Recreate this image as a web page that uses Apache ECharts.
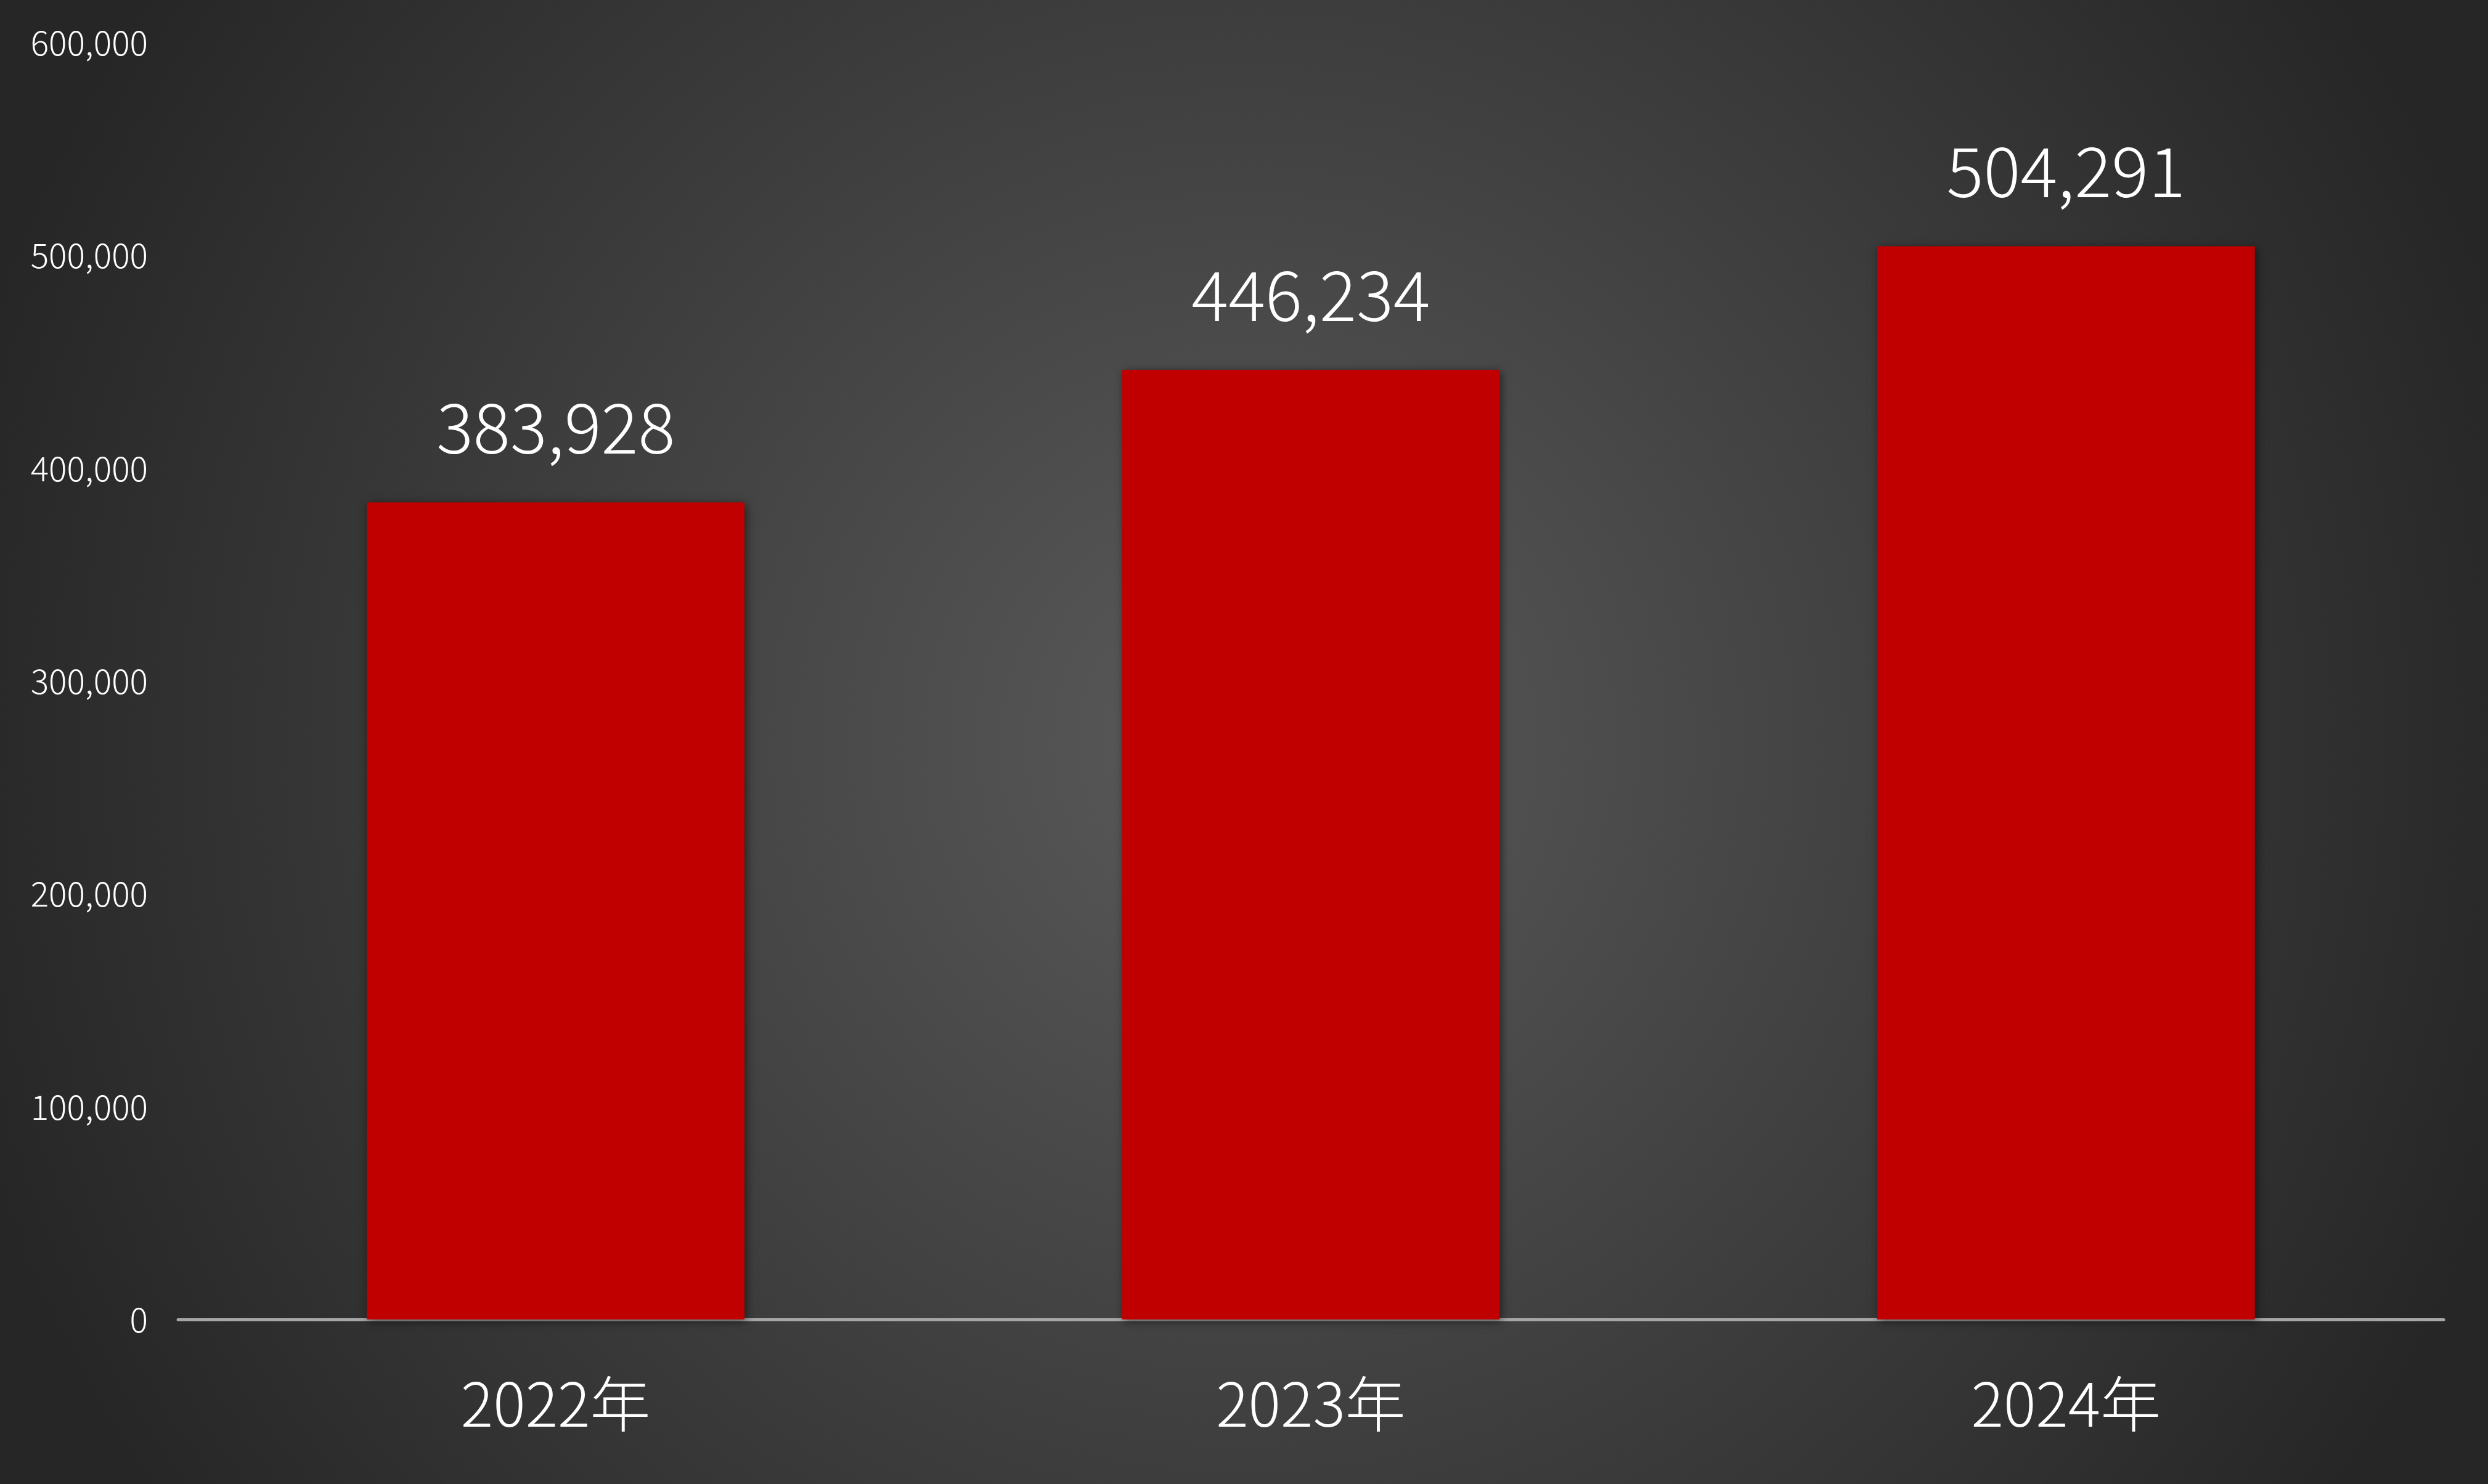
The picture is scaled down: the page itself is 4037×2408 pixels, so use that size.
<!DOCTYPE html>
<html>
<head>
<meta charset="utf-8">
<script src="https://cdn.jsdelivr.net/npm/echarts@6/dist/echarts.min.js"></script>
<style>
  html, body { margin: 0; padding: 0; }
  #main { width: 4037px; height: 2408px; }
</style>
</head>
<body>
<div id="main"></div>
<script>
const years = ['2022年', '2023年', '2024年']
const values = [383928, 446234, 504291]
const yTicks = { min: 0, max: 600000, interval: 100000 }

const fontFamily = '"Noto Sans CJK JP", "Noto Sans", sans-serif'
const fmt = v => v.toLocaleString('en-US')

const chart = echarts.init(document.getElementById('main'))
chart.setOption({
  backgroundColor: {
    type: 'radial',
    x: 2018,
    y: 1204,
    r: 2160,
    global: true,
    colorStops: [
      { offset: 0, color: '#5a5a5a' },
      { offset: 1, color: '#262626' }
    ]
  },
  animation: false,
  grid: { left: 289, right: 72, top: 69, bottom: 267 },
  xAxis: {
    type: 'category',
    data: years,
    axisTick: { show: false },
    axisLine: { lineStyle: { color: '#a6a6a6', width: 5 } },
    axisLabel: {
      color: '#ffffff',
      fontSize: 98,
      fontFamily: fontFamily,
      fontWeight: 300,
      margin: 88
    }
  },
  yAxis: {
    type: 'value',
    min: yTicks.min,
    max: yTicks.max,
    interval: yTicks.interval,
    splitLine: { show: false },
    axisLine: { show: false },
    axisTick: { show: false },
    axisLabel: {
      color: '#ffffff',
      fontSize: 55,
      fontFamily: fontFamily,
      fontWeight: 300,
      margin: 49,
      formatter: v => fmt(v)
    }
  },
  series: [{
    type: 'bar',
    data: values,
    barWidth: '50%',
    itemStyle: {
      color: '#c00000',
      shadowColor: 'rgba(0,0,0,0.55)',
      shadowBlur: 14,
      shadowOffsetX: 3,
      shadowOffsetY: 3
    },
    label: {
      show: true,
      position: 'top',
      distance: 66,
      color: '#ffffff',
      fontSize: 112,
      fontFamily: fontFamily,
      fontWeight: 300,
      formatter: p => fmt(p.value)
    }
  }]
})
</script>
</body>
</html>
